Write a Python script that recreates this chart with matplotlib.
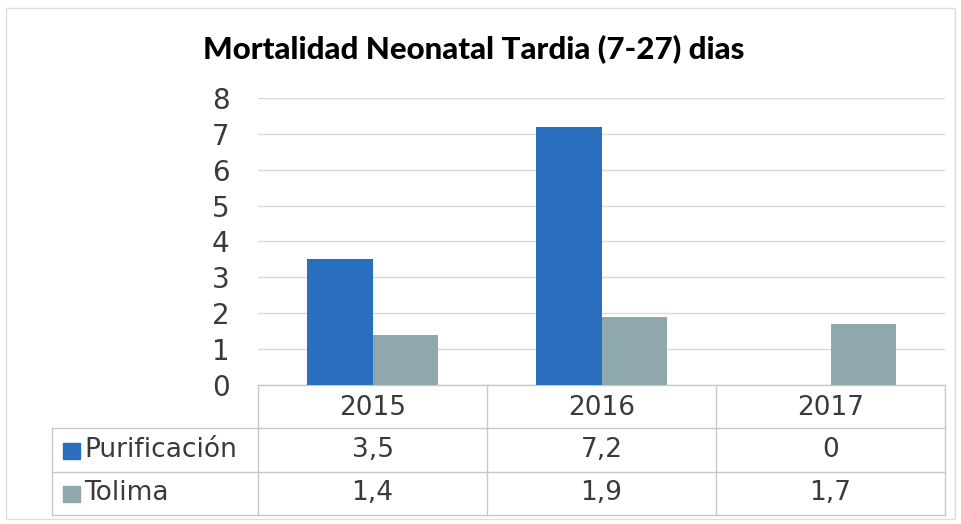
import matplotlib.pyplot as plt
from matplotlib.patches import Rectangle
import numpy as np

plt.rcParams['font.family'] = ['DejaVu Sans']

years = ['2015', '2016', '2017']
series_names = ['Purificación', 'Tolima']
purificacion = [3.5, 7.2, 0]
tolima = [1.4, 1.9, 1.7]
title = 'Mortalidad Neonatal Tardia (7-27) dias'

colors = ['#2a6ebf', '#8fa8ad']
grid_color = '#d9d9d9'
edge_color = '#c8c8c8'
text_color = '#3a3a3a'


def fmt(v):
    return f'{v:g}'.replace('.', ',')


W, H = 961, 524
fig = plt.figure(figsize=(W / 100, H / 100), dpi=100)

# plot area in pixels
left, right, top, bottom = 258, 945, 98, 385
ax = fig.add_axes([left / W, 1 - bottom / H, (right - left) / W, (bottom - top) / H])

x = np.arange(len(years))
bw = 0.284
ax.bar(x - bw / 2, purificacion, bw, color=colors[0], zorder=3)
ax.bar(x + bw / 2, tolima, bw, color=colors[1], zorder=3)

ax.set_xlim(-0.5, len(years) - 0.5)
ax.set_ylim(0, 8)
ax.set_yticks(range(0, 9))
ax.yaxis.grid(True, color=grid_color, linewidth=1, zorder=0)
ax.tick_params(left=False, bottom=False, labelbottom=False, pad=17,
               labelsize=20, labelcolor=text_color)
for s in ax.spines.values():
    s.set_visible(False)

# data table drawn under the axes: x in data units, y in axes units
trans = ax.get_xaxis_transform()
label_left = -0.5 - (left - 52) / (right - left) * len(years)


def ya(px):
    return (bottom - px) / (bottom - top)


row_lines = [385, 428, 472, 515]
for i, yp in enumerate(row_lines):
    x0 = -0.5 if i == 0 else label_left
    ax.plot([x0, len(years) - 0.5], [ya(yp)] * 2, color=edge_color, lw=1,
            transform=trans, clip_on=False)
for k in range(len(years) + 1):
    ax.plot([k - 0.5] * 2, [ya(385), ya(515)], color=edge_color, lw=1,
            transform=trans, clip_on=False)
ax.plot([label_left] * 2, [ya(428), ya(515)], color=edge_color, lw=1,
        transform=trans, clip_on=False)

for i, yr in enumerate(years):
    ax.text(i, ya(408), yr, ha='center', va='center', fontsize=19,
            color=text_color, transform=trans)

for r, (name, vals) in enumerate(zip(series_names, [purificacion, tolima])):
    cy = ya(450 + r * 43)
    for i, v in enumerate(vals):
        ax.text(i, cy, fmt(v), ha='center', va='center', fontsize=19,
                color=text_color, transform=trans)
    ax.text(label_left + 0.14, cy, name, ha='left', va='center', fontsize=19,
            color=text_color, transform=trans)
    ax.add_patch(Rectangle((label_left + 0.048, cy - 0.03), 0.074, 0.055,
                           transform=trans, color=colors[r], clip_on=False))

fig.text(474 / W, 1 - 50 / H, title, ha='center', va='center',
         fontsize=22.5, fontweight='black', color='black', family='Lato')

fig.patches.append(Rectangle((6 / W, 1 - 519 / H), 949 / W, 511 / H,
                             transform=fig.transFigure, fill=False,
                             edgecolor='#dcdcdc', linewidth=1))

fig.savefig('out.png', dpi=100)
